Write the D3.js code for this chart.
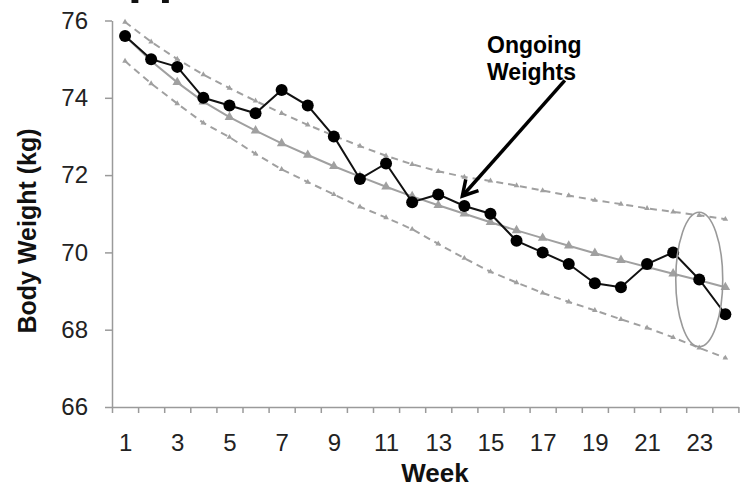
<!DOCTYPE html>
<html>
<head>
<meta charset="utf-8">
<script src="https://cdn.jsdelivr.net/npm/d3@7"></script>
<style>
  html, body { margin: 0; padding: 0; background: #fff; }
  svg { display: block; font-family: "Liberation Sans", Arial, sans-serif; }
</style>
</head>
<body>
<div id="chart"></div>
<script>
/* ── body weight over weeks, with trend and band ───────────── */

const weeks     = [1, 2, 3, 4, 5, 6, 7, 8, 9, 10, 11, 12,
                   13, 14, 15, 16, 17, 18, 19, 20, 21, 22, 23, 24];
const ongoing   = [75.6, 75.0, 74.8, 74.0, 73.8, 73.6, 74.2, 73.8, 73.0, 71.9, 72.3, 71.3,
                   71.5, 71.2, 71.0, 70.3, 70.0, 69.7, 69.2, 69.1, 69.7, 70.0, 69.3, 68.4];
const trend     = [75.6, 74.95, 74.4, 73.9, 73.5, 73.15, 72.82, 72.52, 72.23, 71.96, 71.7, 71.45,
                   71.22, 71.0, 70.78, 70.57, 70.37, 70.17, 69.98, 69.8, 69.62, 69.45, 69.28, 69.1];
const upperBand = [75.96, 75.45, 75.0, 74.6, 74.25, 73.92, 73.6, 73.3, 73.02, 72.75, 72.5, 72.28,
                   72.1, 71.95, 71.85, 71.73, 71.6, 71.47, 71.35, 71.25, 71.14, 71.05, 70.96, 70.86];
const lowerBand = [74.95, 74.37, 73.85, 73.35, 72.98, 72.55, 72.15, 71.82, 71.5, 71.18, 70.9, 70.6,
                   70.22, 69.85, 69.5, 69.22, 68.95, 68.72, 68.5, 68.27, 68.05, 67.8, 67.53, 67.27];

const yTicks     = [66, 68, 70, 72, 74, 76];
const xTickWeeks = [1, 3, 5, 7, 9, 11, 13, 15, 17, 19, 21, 23];

// ellipse around the last weeks (week, kg, half-width in weeks, half-height in kg)
const ring = { week: 23, kg: 69.3, rw: 0.9, rk: 1.74 };

// callout label and arrow (in week / kg units)
const callout = {
  lines: ['Ongoing', 'Weights'],
  textWeek: 14.87, textKg: 75.15,
  tailWeek: 17.85, tailKg: 74.45,
  targetWeek: 14,
};

// ── layout ───────────────────────────────────────────────────
const W = 740, H = 490;
const ML = 112, MT = 20.5;
const plotW = 626.4, plotH = 386.5;

const svg = d3.select('#chart').append('svg')
  .attr('width', W).attr('height', H);

const x = d3.scaleLinear().domain([0.5, 24.5]).range([ML, ML + plotW]);
const y = d3.scaleLinear().domain([66, 76]).range([MT + plotH, MT]);

const AXIS = '#9a9a9a';
const GREY = '#a0a0a0';

// cropped title remnant at the top edge
svg.append('text')
  .attr('x', 128).attr('y', -7)
  .attr('font-size', 50).attr('font-weight', 'bold')
  .attr('fill', '#111')
  .text('pp');

// ── axes ─────────────────────────────────────────────────────
const yAxisG = svg.append('g')
  .attr('transform', `translate(${ML},0)`)
  .call(d3.axisLeft(y).tickValues(yTicks).tickSize(7).tickSizeOuter(0).tickPadding(17));
yAxisG.select('.domain').attr('stroke', AXIS).attr('stroke-width', 1.5);
yAxisG.selectAll('.tick line').attr('stroke', AXIS).attr('stroke-width', 1.5);
yAxisG.selectAll('.tick text')
  .attr('font-size', 24).attr('fill', '#222')
  .attr('font-family', '"Liberation Sans", Arial, sans-serif');

const bounds = weeks.map(w => w - 0.5).concat([24.5]);
const xAxisG = svg.append('g')
  .attr('transform', `translate(0,${MT + plotH})`)
  .call(d3.axisBottom(x).tickValues(bounds).tickSize(6).tickSizeOuter(0).tickFormat(''));
xAxisG.select('.domain').attr('stroke', AXIS).attr('stroke-width', 1.5);
xAxisG.selectAll('.tick line').attr('stroke', AXIS).attr('stroke-width', 1.5);

const xLabelG = svg.append('g')
  .attr('transform', `translate(0,${MT + plotH})`)
  .call(d3.axisBottom(x).tickValues(xTickWeeks).tickSize(0).tickPadding(27).tickFormat(d3.format('d')));
xLabelG.select('.domain').remove();
xLabelG.selectAll('.tick text')
  .attr('font-size', 24).attr('fill', '#222')
  .attr('font-family', '"Liberation Sans", Arial, sans-serif');

// axis titles
svg.append('text')
  .attr('transform', `translate(36,231) rotate(-90)`)
  .attr('text-anchor', 'middle')
  .attr('font-size', 25).attr('font-weight', 'bold').attr('fill', '#111')
  .text('Body Weight (kg)');

svg.append('text')
  .attr('x', 435).attr('y', 482)
  .attr('text-anchor', 'middle')
  .attr('font-size', 26).attr('font-weight', 'bold').attr('fill', '#111')
  .text('Week');

// ── series ───────────────────────────────────────────────────
function rows(vals) { return weeks.map((w, i) => ({ w, v: vals[i] })); }
const line = d3.line().x(d => x(d.w)).y(d => y(d.v));

function drawBand(vals) {
  const g = svg.append('g');
  g.append('path').datum(rows(vals))
    .attr('fill', 'none').attr('stroke', GREY)
    .attr('stroke-width', 2).attr('stroke-dasharray', '7,5')
    .attr('d', line);
  g.selectAll('path.mk').data(rows(vals)).enter().append('path')
    .attr('class', 'mk')
    .attr('transform', d => `translate(${x(d.w)},${y(d.v)})`)
    .attr('d', d3.symbol(d3.symbolTriangle, 14))
    .attr('fill', GREY);
}
drawBand(upperBand);
drawBand(lowerBand);

// trend line with triangles
const trendG = svg.append('g');
trendG.append('path').datum(rows(trend))
  .attr('fill', 'none').attr('stroke', GREY).attr('stroke-width', 2)
  .attr('d', line);
trendG.selectAll('path.tri').data(rows(trend)).enter().append('path')
  .attr('class', 'tri')
  .attr('transform', d => `translate(${x(d.w)},${y(d.v)})`)
  .attr('d', d3.symbol(d3.symbolTriangle, 40))
  .attr('fill', GREY);

// ongoing weights
const dataG = svg.append('g');
dataG.append('path').datum(rows(ongoing))
  .attr('fill', 'none').attr('stroke', '#111').attr('stroke-width', 2)
  .attr('d', line);
dataG.selectAll('circle').data(rows(ongoing)).enter().append('circle')
  .attr('cx', d => x(d.w)).attr('cy', d => y(d.v))
  .attr('r', 6).attr('fill', '#000');

// ── annotations ──────────────────────────────────────────────
svg.append('ellipse')
  .attr('cx', x(ring.week)).attr('cy', y(ring.kg))
  .attr('rx', x(ring.week + ring.rw) - x(ring.week))
  .attr('ry', y(ring.kg - ring.rk) - y(ring.kg))
  .attr('fill', 'none').attr('stroke', '#999').attr('stroke-width', 1.6);

const label = svg.append('text')
  .attr('font-size', 23).attr('font-weight', 'bold').attr('fill', '#000');
callout.lines.forEach((t, i) => {
  label.append('tspan')
    .attr('x', x(callout.textWeek))
    .attr('y', y(callout.textKg) + i * 27)
    .text(t);
});

const tgt = ongoing[weeks.indexOf(callout.targetWeek)];
const tip  = [x(callout.targetWeek) - 2, y(tgt) - 10];
const tail = [x(callout.tailWeek), y(callout.tailKg)];
const ang  = Math.atan2(tip[1] - tail[1], tip[0] - tail[0]);
const HL = 17, HA = Math.PI / 6;
const headA = [tip[0] - HL * Math.cos(ang - HA), tip[1] - HL * Math.sin(ang - HA)];
const headB = [tip[0] - HL * Math.cos(ang + HA), tip[1] - HL * Math.sin(ang + HA)];

svg.append('path')
  .attr('d', d3.line()([tail, tip]))
  .attr('stroke', '#000').attr('stroke-width', 3.5).attr('fill', 'none');
svg.append('path')
  .attr('d', d3.line()([headA, tip, headB]))
  .attr('stroke', '#000').attr('stroke-width', 3.5).attr('fill', 'none')
  .attr('stroke-linejoin', 'miter');
</script>
</body>
</html>
